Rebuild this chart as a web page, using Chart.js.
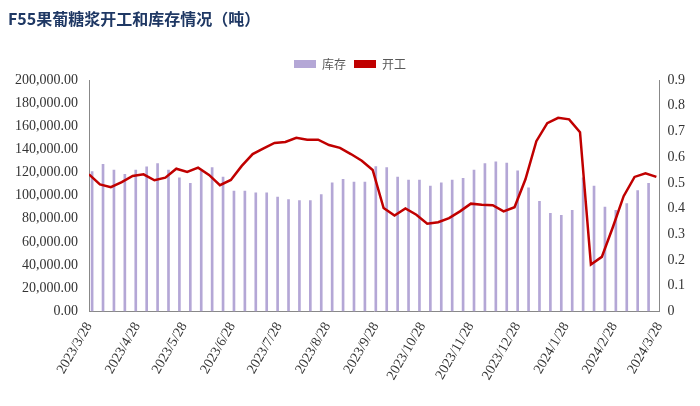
<!DOCTYPE html>
<html><head><meta charset="utf-8">
<script src="https://cdn.jsdelivr.net/npm/chart.js@4/dist/chart.umd.min.js"></script>
<style>body{margin:0;background:#fff}#w{position:relative;width:700px;height:406px}
#t{position:absolute;left:8px;top:6px;font:bold 16px "Noto Sans CJK SC";color:#1f3864}</style>
</head><body><div id="w"><div id="t">F55果葡糖浆开工和库存情况（吨）</div><canvas id="c" width="700" height="406"></canvas></div>
<script>
const startDate = '2023/3/28';
const tickLabels = ['2023/3/28','2023/4/28','2023/5/28','2023/6/28','2023/7/28','2023/8/28','2023/9/28','2023/10/28','2023/11/28','2023/12/28','2024/1/28','2024/2/28','2024/3/28'];
const inventory = [120800,127200,122200,118500,122200,124900,127800,122200,115500,110600,121000,124300,116100,103900,103900,102400,102400,98900,96600,95800,95800,101000,111100,114100,111800,111800,125100,124300,
116100,113500,113500,108300,111200,113500,115000,122200,127800,129300,128100,121400,106800,95200,84700,83000,87300,115500,108300,90200,87300,93100,104500,110600,null];
const operating = [0.533,0.494,0.483,0.503,0.527,0.533,0.51,0.52,0.555,0.542,0.559,0.531,0.491,0.511,0.566,0.612,0.634,0.655,0.659,0.675,0.668,0.668,0.647,0.636,0.612,0.586,0.55,0.402,
0.373,0.4,0.376,0.341,0.347,0.363,0.389,0.419,0.415,0.413,0.389,0.405,0.514,0.662,0.732,0.753,0.747,0.697,0.182,0.212,0.326,0.448,0.523,0.537,0.523];
const d0 = new Date(startDate);
const dayOf = s => Math.round((new Date(s) - d0) / 86400000);
const tickDays = tickLabels.map(dayOf);
const xs = operating.map((_, i) => i * 7);
const f = {family:'"Liberation Serif","DejaVu Serif"', size:14};
new Chart(document.getElementById('c'), {
  data: {datasets: [
    {type:'bar', label:'库存', data: inventory.map((v,i)=>({x:xs[i]+2, y:v})), backgroundColor:'#b4a7d6', barThickness:2, yAxisID:'y', order:2},
    {type:'line', label:'开工', data: operating.map((v,i)=>({x:xs[i], y:v})), borderColor:'#c00000', backgroundColor:'#c00000', borderWidth:2.5, pointRadius:0, tension:0, yAxisID:'y1', order:1}
  ]},
  options: {
    responsive:false, animation:false,
    layout:{padding:{top:50,left:12,right:12,bottom:20}},
    plugins:{legend:{position:'top', labels:{font:{family:'"Noto Sans CJK SC"',size:12}, color:'#595959', boxWidth:22, boxHeight:8, padding:8,
      generateLabels: ch => ch.data.datasets.map((d,i)=>({text:d.label, fillStyle:d.type==='line'?'#c00000':'#b4a7d6', strokeStyle:d.type==='line'?'#c00000':'#b4a7d6', lineWidth:0, datasetIndex:i, fontColor:'#595959'}))}},
      tooltip:{enabled:false}},
    scales:{
      x:{type:'linear', min:0, max:tickDays[tickDays.length-1], offset:false,
        afterBuildTicks: a => { a.ticks = tickDays.map(v=>({value:v})); },
        ticks:{callback:(v)=>tickLabels[tickDays.indexOf(v)], maxRotation:60, minRotation:60, font:f, color:'#333', autoSkip:false},
        grid:{display:false, drawTicks:true, tickLength:5}, border:{color:'#888'}},
      y:{position:'left', min:0, max:200000, ticks:{stepSize:20000, font:f, color:'#333', callback:v=>v.toLocaleString('en-US',{minimumFractionDigits:2,maximumFractionDigits:2})},
        grid:{display:false}, border:{color:'#888'}},
      y1:{position:'right', min:0, max:0.9, ticks:{stepSize:0.1, font:f, color:'#333', callback:v=>Number(v.toFixed(1)).toString()},
        grid:{display:false, drawTicks:true, tickLength:5}, border:{color:'#888'}}
    }
  }
});
</script></body></html>
